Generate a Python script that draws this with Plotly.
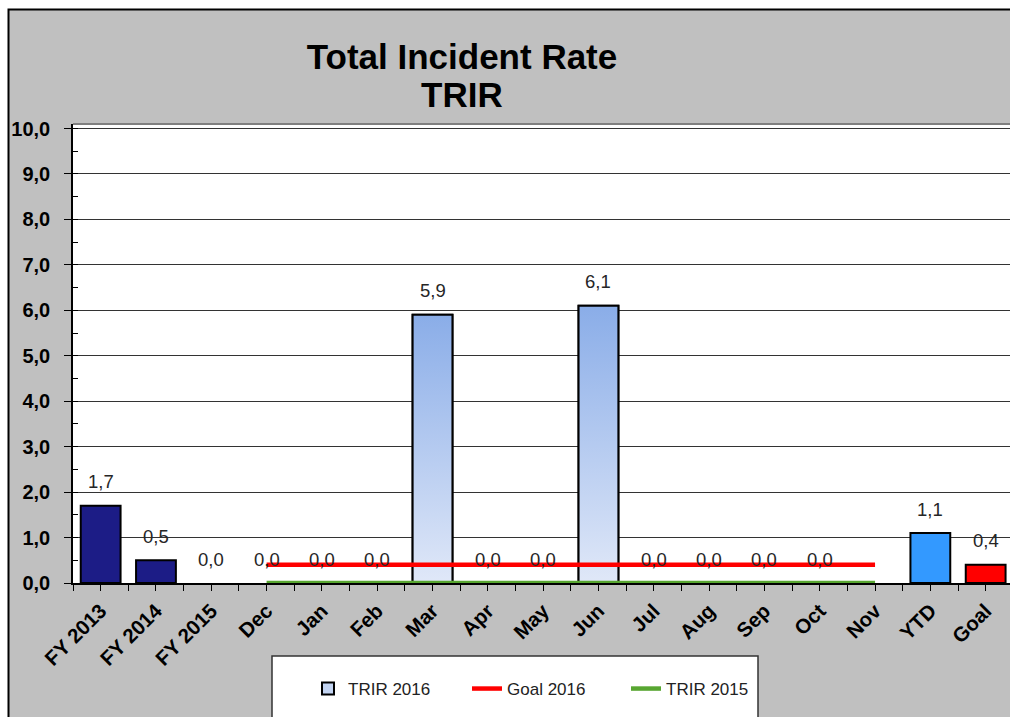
import plotly.graph_objects as go

# ---------------- data ----------------
categories = ["FY 2013", "FY 2014", "FY 2015", "Dec", "Jan", "Feb", "Mar", "Apr",
              "May", "Jun", "Jul", "Aug", "Sep", "Oct", "Nov", "YTD", "Goal"]

summary_cats = ["FY 2013", "FY 2014", "FY 2015", "YTD", "Goal"]
summary_vals = [1.7, 0.5, 0.0, 1.1, 0.4]
summary_colors = ["#1C1C86", "#1C1C86", "#1C1C86", "#3399FF", "#FF0000"]

months = ["Dec", "Jan", "Feb", "Mar", "Apr", "May", "Jun", "Jul", "Aug", "Sep", "Oct", "Nov"]
trir_2016 = [0.0, 0.0, 0.0, 5.9, 0.0, 0.0, 6.1, 0.0, 0.0, 0.0, 0.0, None]
goal_2016 = [0.4, 0.4, 0.4, 0.4, 0.4, 0.4, 0.4, 0.4, 0.4, 0.4, 0.4, 0.4]
trir_2015 = [0.0, 0.0, 0.0, 0.0, 0.0, 0.0, 0.0, 0.0, 0.0, 0.0, 0.0, 0.0]

y_ticks = [0, 1, 2, 3, 4, 5, 6, 7, 8, 9, 10]

title_line1 = "Total Incident Rate"
title_line2 = "TRIR"

# ---------------- helpers ----------------
FONT = "Liberation Sans, Arial, sans-serif"
BAR_W = 0.72
idx = {c: i for i, c in enumerate(categories)}
sx = [idx[c] for c in summary_cats]
mx = [idx[c] for c in months]

W, H = 1010, 717
ML, MR, MT, MB = 73, 0, 124, 134
PW, PH = W - ML - MR, H - MT - MB


def px_x(p):                 # pixel -> paper x
    return (p - ML) / PW


def px_y(p):                 # pixel -> paper y
    return (H - MB - p) / PH


def nonzero(vals):           # empty (zero) bars are not drawn as boxes
    return [v if v else None for v in vals]


fig = go.Figure()

# summary bars (FY, YTD, Goal)
fig.add_trace(go.Bar(
    x=sx, y=nonzero(summary_vals), width=BAR_W, showlegend=False,
    marker=dict(color=summary_colors, line=dict(color="black", width=2)),
    name="Summary", hoverinfo="skip"))

# TRIR 2016 monthly bars
fig.add_trace(go.Bar(
    x=mx, y=nonzero(trir_2016), width=BAR_W, name="TRIR 2016",
    marker=dict(color="#C3D4F2", line=dict(color="black", width=2))))

# gradient overlay for the monthly bars with values
for xi, v in zip(mx, trir_2016):
    if v:
        x0, x1 = xi - BAR_W / 2, xi + BAR_W / 2
        fig.add_trace(go.Scatter(
            x=[x0, x0, x1, x1, x0], y=[0, v, v, 0, 0],
            mode="lines", fill="toself", showlegend=False, hoverinfo="skip",
            line=dict(color="black", width=2),
            fillgradient=dict(type="vertical", start=0, stop=v,
                              colorscale=[[0, "#E0E8F8"], [1, "#8AADE8"]])))

# lines
fig.add_trace(go.Scatter(x=mx, y=goal_2016, mode="lines", name="Goal 2016",
                         line=dict(color="#FF0000", width=4.5)))
fig.add_trace(go.Scatter(x=mx, y=trir_2015, mode="lines", name="TRIR 2015",
                         line=dict(color="#58A631", width=4.5)))

# data labels
annotations = []
for xi, v in list(zip(sx, summary_vals)) + list(zip(mx, trir_2016)):
    if v is None:
        continue
    annotations.append(dict(
        x=xi, y=v, xref="x", yref="y", text=f"{v:.1f}".replace(".", ","),
        showarrow=False, yanchor="middle", yshift=24,
        font=dict(family=FONT, size=18.5, color="#262626")))

# second title line
annotations.append(dict(
    text=title_line2, xref="paper", yref="paper", x=px_x(462), y=px_y(95),
    xanchor="center", yanchor="middle", showarrow=False,
    font=dict(family=FONT, size=35, color="black", weight="bold")))

shapes = [
    # white outer strips (left / top of the chart frame)
    dict(type="rect", xref="paper", yref="paper", layer="below",
         x0=px_x(-10), x1=px_x(8), y0=px_y(H + 10), y1=px_y(-10),
         fillcolor="white", line=dict(width=0)),
    dict(type="rect", xref="paper", yref="paper", layer="below",
         x0=px_x(-10), x1=px_x(W + 10), y0=px_y(9), y1=px_y(-10),
         fillcolor="white", line=dict(width=0)),
    # outer frame
    dict(type="rect", xref="paper", yref="paper", layer="below",
         x0=px_x(8.5), x1=px_x(W + 20), y0=px_y(H + 20), y1=px_y(9.5),
         line=dict(color="black", width=2)),
    # plot area top border
    dict(type="line", xref="paper", yref="paper", x0=0, x1=1, y0=1, y1=1,
         line=dict(color="#7F7F7F", width=2)),
    # legend box
    dict(type="rect", xref="paper", yref="paper", layer="below",
         x0=px_x(272), x1=px_x(758), y0=px_y(H + 20), y1=px_y(656),
         fillcolor="white", line=dict(color="#333333", width=1.5)),
]

fig.update_layout(
    width=W, height=H,
    margin=dict(l=ML, r=MR, t=MT, b=MB, pad=0),
    paper_bgcolor="#C0C0C0", plot_bgcolor="white",
    separators=", ",
    barmode="overlay",
    title=dict(text=title_line1, x=462 / W, xanchor="center",
               xref="container", y=1 - 44 / H, yanchor="top", yref="container",
               font=dict(family=FONT, size=35, color="black", weight="bold")),
    font=dict(family=FONT, color="black"),
    showlegend=True,
    legend=dict(orientation="h", x=px_x(308), xanchor="left",
                y=px_y(689), yanchor="middle", bgcolor="rgba(0,0,0,0)",
                entrywidth=114, entrywidthmode="pixels", borderwidth=0,
                font=dict(family=FONT, size=17, color="#222222")),
    xaxis=dict(range=[-0.5, 16.44], tickmode="array",
               tickvals=list(range(len(categories))), ticktext=categories,
               tickangle=-45, ticks="outside", ticklen=6, tickcolor="black",
               tickwidth=1, showgrid=False, zeroline=False,
               showline=True, linecolor="black", linewidth=1.5,
               tickfont=dict(family=FONT, size=20.5, color="black", weight="bold"),
               minor=dict(tickmode="array",
                          tickvals=[k - 0.5 for k in range(len(categories) + 1)],
                          ticks="outside", ticklen=6, tickcolor="black", tickwidth=1)),
    yaxis=dict(range=[0, 10.1], tickmode="array", tickvals=y_ticks,
               tickformat=".1f", ticks="outside", ticklen=7, tickcolor="black",
               showgrid=True, gridcolor="#333333", gridwidth=1, zeroline=False,
               showline=True, linecolor="black", linewidth=1.5,
               ticklabelstandoff=10,
               tickfont=dict(family=FONT, size=20, color="black", weight="bold"),
               minor=dict(dtick=0.5, tick0=0, ticks="inside", ticklen=5,
                          tickcolor="black", showgrid=False)),
    annotations=annotations,
    shapes=shapes,
)

fig.write_html(
    "out.html",
    config={"displayModeBar": False},
    post_script="document.body.style.margin='0';"
                "document.documentElement.style.overflow='hidden';"
                "document.body.style.overflow='hidden';",
)
